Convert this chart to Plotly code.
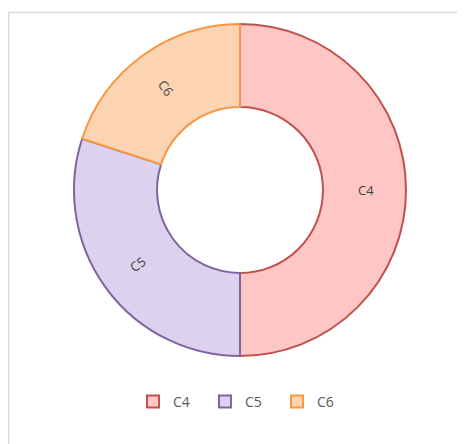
import math
import plotly.graph_objects as go

labels = ["C4", "C5", "C6"]
values = [50, 30, 20]
fill_colors = ["#ffc6c6", "#dcd2ef", "#fdd4b2"]
line_colors = ["#c0504d", "#8064a2", "#f79646"]

W, H = 465, 444
CX, CY, R = 232, 182, 166  # pie centre / radius in pixels (layout only)

fig = go.Figure()
fig.add_trace(go.Pie(
    labels=labels,
    values=values,
    hole=0.5,
    sort=False,
    direction="clockwise",
    rotation=0,
    textinfo="none",
    marker=dict(colors=fill_colors, line=dict(color=line_colors, width=2)),
    domain=dict(x=[(CX - R) / W, (CX + R) / W], y=[1 - (CY + R) / H, 1 - (CY - R) / H]),
    showlegend=True,
))

# radial slice labels, placed from the data values
total = sum(values)
start = 0.0
for lab, v in zip(labels, values):
    span = 360.0 * v / total
    mid = start + span / 2
    start += span
    rad = math.radians(mid)
    rr = 0.76 * R
    dx = rr * math.sin(rad)
    dy = rr * math.cos(rad)
    ang = (mid - 90) % 180
    if ang > 90:
        ang -= 180
    fig.add_annotation(x=CX / W, y=1 - CY / H, xref="paper", yref="paper",
                       xshift=dx, yshift=dy, text=lab, showarrow=False, textangle=ang,
                       font=dict(family="Open Sans, DejaVu Sans, sans-serif", size=13, color="#404040"))

fig.add_shape(type="rect", xref="paper", yref="paper",
              x0=0.5 / W, x1=1.2, y0=-0.2, y1=1 - 4.5 / H,
              line=dict(color="#d9d9d9", width=1.5), fillcolor="rgba(0,0,0,0)", layer="below")

fig.update_layout(
    width=W, height=H,
    margin=dict(l=0, r=0, t=0, b=0),
    paper_bgcolor="white",
    plot_bgcolor="white",
    legend=dict(orientation="h", x=0.501, xanchor="center", y=1 - 394 / H, yanchor="middle",
                font=dict(family="Open Sans, DejaVu Sans, sans-serif", size=14, color="#595959"),
                itemwidth=30, entrywidth=27, entrywidthmode="pixels", traceorder="normal"),
)

fig.write_html("out.html")
